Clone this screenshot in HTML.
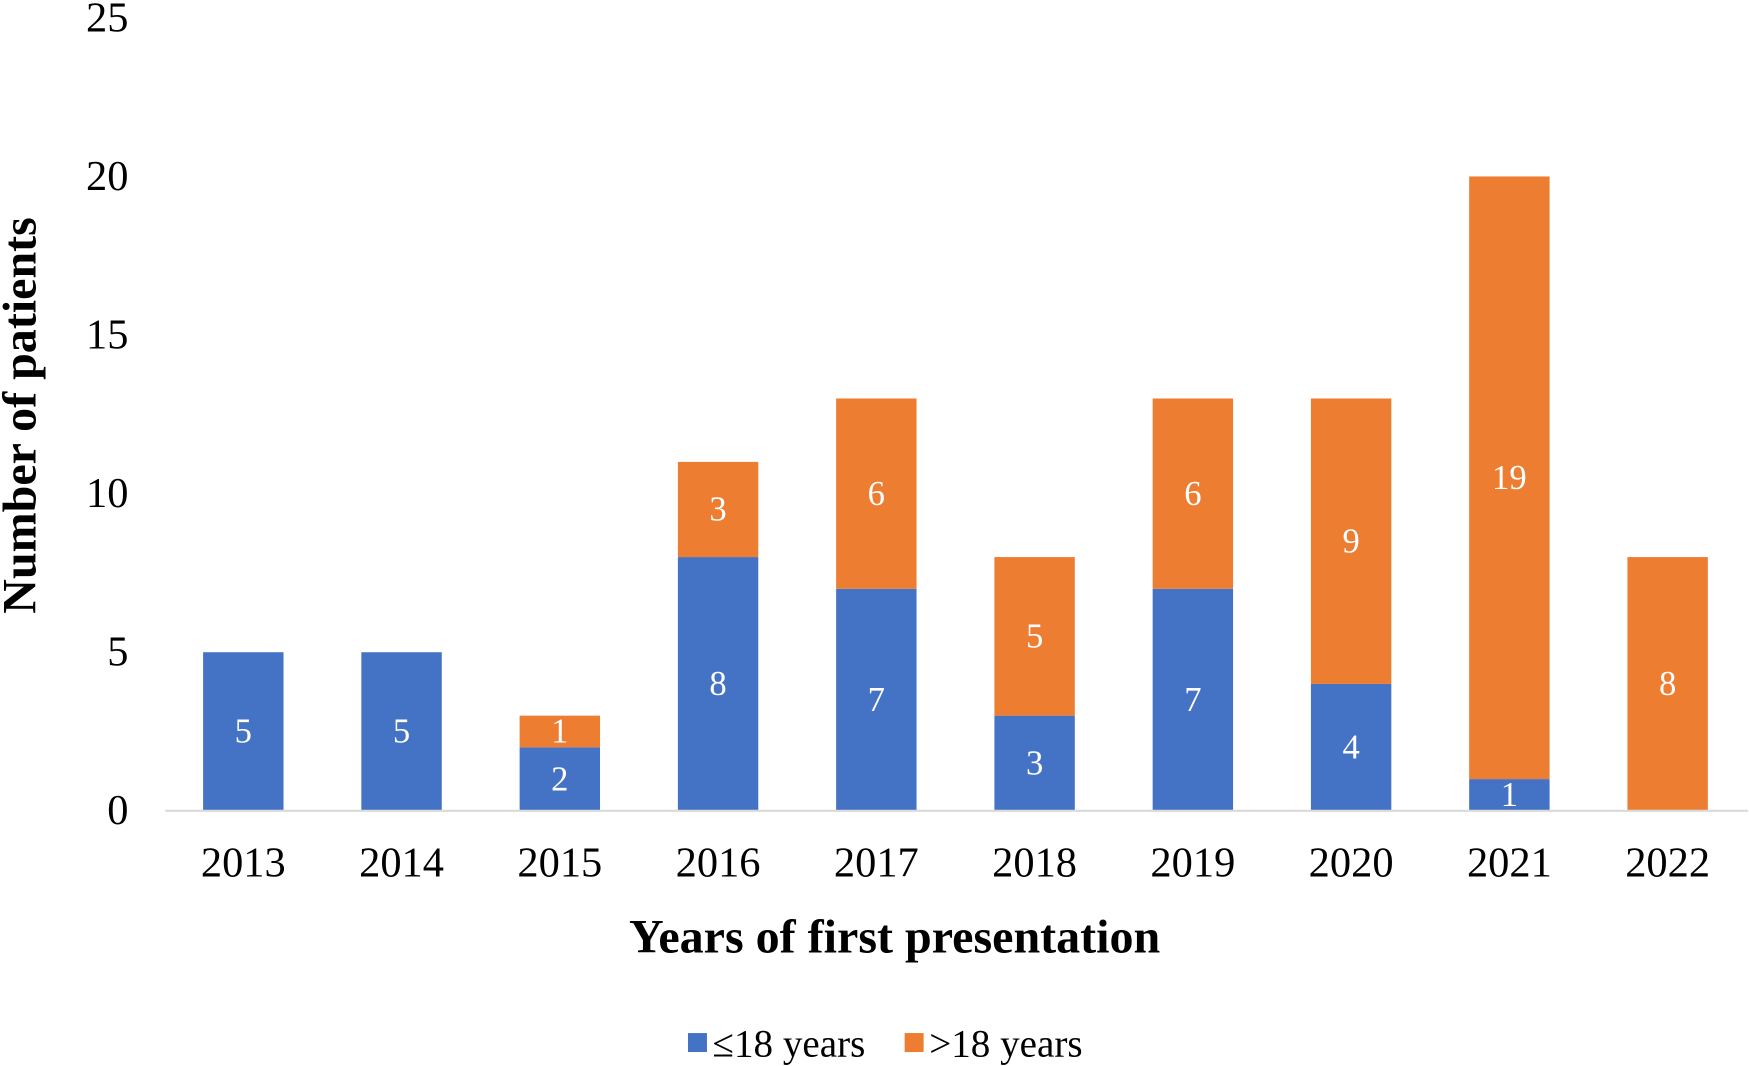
<!DOCTYPE html>
<html><head><meta charset="utf-8"><style>
html,body{margin:0;padding:0;background:#fff;}
svg{display:block;font-family:"Liberation Serif",serif;}
</style></head><body>
<svg id="chart" width="1749" height="1066" viewBox="0 0 1566 954.5" preserveAspectRatio="none">
<g id="yticks"></g><g id="bars"></g><g id="xticks"></g>
<line x1="148" y1="726" x2="1565" y2="726" stroke="#d9d9d9" stroke-width="2"/>
<text x="801" y="853" font-size="43" font-weight="bold" text-anchor="middle">Years of first presentation</text>
<text transform="translate(32,372) rotate(-90)" font-size="43" font-weight="bold" text-anchor="middle">Number of patients</text>
<g>
<rect x="616" y="925" width="17" height="17" fill="#4472C4"/>
<text x="638" y="946" font-size="35">≤18 years</text>
<rect x="810" y="925" width="17" height="17" fill="#ED7D31"/>
<text x="832" y="946" font-size="35">&gt;18 years</text>
</g>
</svg>
<script>
const categories=["2013","2014","2015","2016","2017","2018","2019","2020","2021","2022"];
const under18=[5,5,2,8,7,3,7,4,1,0];
const over18=[0,0,1,3,6,5,6,9,19,8];
const yTicks=[0,5,10,15,20,25];
const NS="http://www.w3.org/2000/svg";
const y0=726, pxPerUnit=28.4, x0=147, step=141.7, bw=72;
function yS(v){return y0-v*pxPerUnit;}
function xC(i){return x0+step*(i+0.5);}
function mk(tag,attrs,parent){const e=document.createElementNS(NS,tag);for(const k in attrs)e.setAttribute(k,attrs[k]);parent.appendChild(e);return e;}
const yt=document.getElementById('yticks'),bars=document.getElementById('bars'),xt=document.getElementById('xticks');
yTicks.forEach(v=>{
 const t=mk('text',{x:115,y:yS(v)+12,'font-size':38,'text-anchor':'end'},yt);
 
 
 t.textContent=v;
});
categories.forEach((c,i)=>{
 const cx=xC(i);
 const t=mk('text',{x:cx,y:785,'font-size':38,'text-anchor':'middle'},xt);
 
 
 t.textContent=c;
 const segs=[[under18[i],0,'#4472C4','bar-under18'],[over18[i],under18[i],'#ED7D31','bar-over18']];
 segs.forEach(([v,base,col,name])=>{
  if(v<=0)return;
  const top=yS(base+v),bot=yS(base);
  const r=mk('rect',{x:cx-bw/2,y:top,width:bw,height:bot-top,fill:col},bars);
  
  
  const l=mk('text',{x:cx,y:(top+bot)/2+10,'font-size':31,fill:'#fff','text-anchor':'middle'},bars);
  
  
  l.textContent=v;
 });
});
</script>
</body></html>
